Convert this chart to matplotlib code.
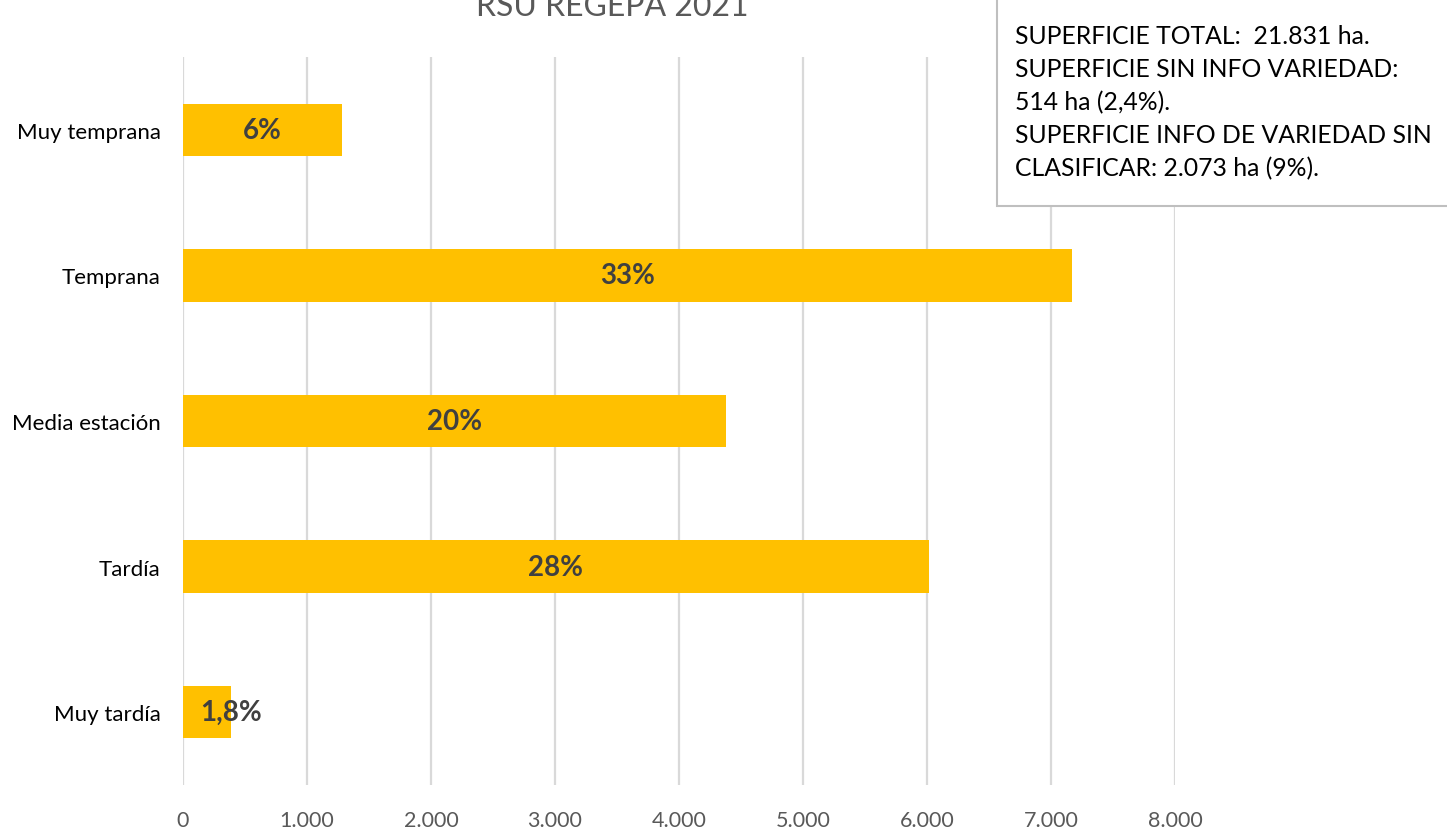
import matplotlib.pyplot as plt
from matplotlib.patches import Rectangle

plt.rcParams['font.family'] = ['Lato', 'DejaVu Sans']

categories = ['Muy temprana', 'Temprana', 'Media estación', 'Tardía', 'Muy tardía']
hectareas = [1282, 7169, 4379, 6016, 387]
percent_labels = ['6%', '33%', '20%', '28%', '1,8%']
xticks = [0, 1000, 2000, 3000, 4000, 5000, 6000, 7000, 8000]
xtick_labels = ['0', '1.000', '2.000', '3.000', '4.000', '5.000', '6.000', '7.000', '8.000']
title = 'RSU REGEPA 2021'
note_lines = ['SUPERFICIE TOTAL:  21.831 ha.',
              'SUPERFICIE SIN INFO VARIEDAD:',
              '514 ha (2,4%).',
              'SUPERFICIE INFO DE VARIEDAD SIN',
              'CLASIFICAR: 2.073 ha (9%).']

W, H = 1447, 829
bar_colour = '#FFC000'
grid_colour = '#D9D9D9'
text_grey = '#595959'

fig = plt.figure(figsize=(W / 100, H / 100), dpi=100)
ax = fig.add_axes([183 / W, 1 - 786 / H, (1175 - 183) / W, (786 - 58) / H])

ypos = list(range(len(categories)))
ax.barh(ypos, hectareas, height=0.36, color=bar_colour, zorder=2)

for y, v, lab in zip(ypos, hectareas, percent_labels):
  # small bars get their label centred on the bar end, like in Excel
  xl = v if v < 1000 else v / 2
  ax.text(xl, y, lab, ha='center', va='center', fontsize=20, fontweight='bold',
          color='#404040', zorder=3)

ax.set_xlim(0, 8000)
ax.set_ylim(len(categories) - 0.5, -0.5)
ax.set_yticks(ypos)
ax.set_yticklabels(categories, fontsize=16, color='#000000')
ax.set_xticks(xticks)
ax.set_xticklabels(xtick_labels, fontsize=15.5, color=text_grey)
ax.tick_params(axis='both', length=0)
ax.tick_params(axis='x', pad=18)
ax.tick_params(axis='y', pad=16)
ax.grid(axis='x', color=grid_colour, linewidth=1.6, zorder=0)
for s in ax.spines.values():
  s.set_visible(False)

fig.text(612 / W, 1 - 16 / H, title, ha='center', va='baseline', fontsize=23, color=text_grey)

# text box top right
fig.patches.append(Rectangle((997 / W, 1 - 207 / H), (W - 997 + 5) / W, 220 / H,
                             transform=fig.transFigure, facecolor='white',
                             edgecolor='#BFBFBF', linewidth=1.5, zorder=5))
for i, line in enumerate(note_lines):
  fig.text(1015 / W, 1 - (44 + i * 33) / H, line, ha='left', va='baseline',
           fontsize=17.8, color='#000000', zorder=6)

fig.savefig('out.png', dpi=100)
